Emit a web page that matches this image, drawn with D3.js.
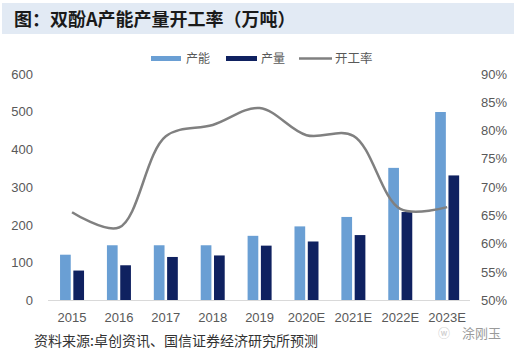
<!DOCTYPE html>
<html><head><meta charset="utf-8">
<script src="https://cdn.jsdelivr.net/npm/d3@7"></script>
<style>
body{margin:0;background:#fff;}
svg{display:block;font-family:"Liberation Sans",Arial,sans-serif;}
</style></head>
<body><svg id="c" width="516" height="354"></svg>
<script>
const categories = ["2015","2016","2017","2018","2019","2020E","2021E","2022E","2023E"];
const capacity   = [120,145,145,145,170,195,220,350,498];
const production = [78,92,114,118,144,155,172,233,330];
const utilization= [65.5,62.8,78.9,80.9,83.9,79.1,79.0,66.1,66.4];
const leftTicks  = [0,100,200,300,400,500,600];
const rightTicks = [50,55,60,65,70,75,80,85,90];

const svg = d3.select("#c");
const cjk = '"Noto Sans CJK SC", sans-serif';

// title bar
svg.append("rect").attr("x",2).attr("y",3).attr("width",512).attr("height",31).attr("fill","#e2eaf4");
svg.append("text").attr("x",14).attr("y",26).attr("font-family",cjk).attr("font-weight","bold")
  .attr("font-size",18).attr("fill","#1a1a1a").text("图：双酚A产能产量开工率（万吨）");

const x = d3.scaleBand().domain(categories).range([48,470]).paddingInner(0).paddingOuter(0);
const yL = d3.scaleLinear().domain([0,600]).range([300,73.5]);
const yR = d3.scaleLinear().domain([50,90]).range([300,73.5]);
const bw = 10.7, gap = 2.6;

// left axis labels
svg.append("g").selectAll("text").data(leftTicks).join("text")
  .attr("x",33).attr("y",d=>yL(d)+5).attr("text-anchor","end")
  .attr("font-size",13).attr("fill","#595959").text(d=>d);
// right axis labels
svg.append("g").selectAll("text").data(rightTicks).join("text")
  .attr("x",481).attr("y",d=>yR(d)+5).attr("text-anchor","start")
  .attr("font-size",13).attr("fill","#595959").text(d=>d+"%");

// baseline
svg.append("line").attr("x1",48).attr("x2",470).attr("y1",yL(0)+0.5).attr("y2",yL(0)+0.5)
  .attr("stroke","#d9d9d9").attr("stroke-width",1);

// bars
const cx = d => x(d)+x.bandwidth()/2 + 0.6;
svg.append("g").selectAll("rect").data(categories).join("rect")
  .attr("x",(d)=>cx(d)-gap/2-bw).attr("width",bw)
  .attr("y",(d,i)=>yL(capacity[i])).attr("height",(d,i)=>yL(0)-yL(capacity[i]))
  .attr("fill","#6a9fd4");
svg.append("g").selectAll("rect").data(categories).join("rect")
  .attr("x",(d)=>cx(d)+gap/2).attr("width",bw)
  .attr("y",(d,i)=>yL(production[i])).attr("height",(d,i)=>yL(0)-yL(production[i]))
  .attr("fill","#0f2160");

// line
const line = d3.line().x((d,i)=>cx(categories[i])).y(d=>yR(d)).curve(d3.curveCatmullRom.alpha(0.5));
svg.append("path").datum(utilization).attr("d",line).attr("fill","none")
  .attr("stroke","#808080").attr("stroke-width",2.5);

// x labels
svg.append("g").selectAll("text").data(categories).join("text")
  .attr("x",d=>cx(d)).attr("y",322).attr("text-anchor","middle")
  .attr("font-size",13).attr("fill","#595959").text(d=>d);

// legend
const lg = svg.append("g").attr("font-family",cjk).attr("font-size",12).attr("fill","#595959");
lg.append("rect").attr("x",151).attr("y",56).attr("width",30).attr("height",5).attr("fill","#6a9fd4");
lg.append("text").attr("x",186).attr("y",63).text("产能");
lg.append("rect").attr("x",226).attr("y",56).attr("width",31).attr("height",5).attr("fill","#0f2160");
lg.append("text").attr("x",261).attr("y",63).text("产量");
lg.append("line").attr("x1",299).attr("x2",332).attr("y1",58.5).attr("y2",58.5).attr("stroke","#808080").attr("stroke-width",2.5);
lg.append("text").attr("x",335).attr("y",63).attr("font-size",12.5).text("开工率");

// source
svg.append("text").attr("x",34).attr("y",346).attr("font-family",cjk).attr("font-size",14)
  .attr("fill","#333").text("资料来源:卓创资讯、国信证券经济研究所预测");
// watermark
svg.append("text").attr("x",462).attr("y",338).attr("font-family",cjk).attr("font-size",13)
  .attr("fill","#9a9a9a").text("涂刚玉");
svg.append("text").attr("x",438).attr("y",338).attr("font-family",cjk).attr("font-size",12)
  .attr("fill","#c8c8c8").text("ⓦ");
</script></body></html>
